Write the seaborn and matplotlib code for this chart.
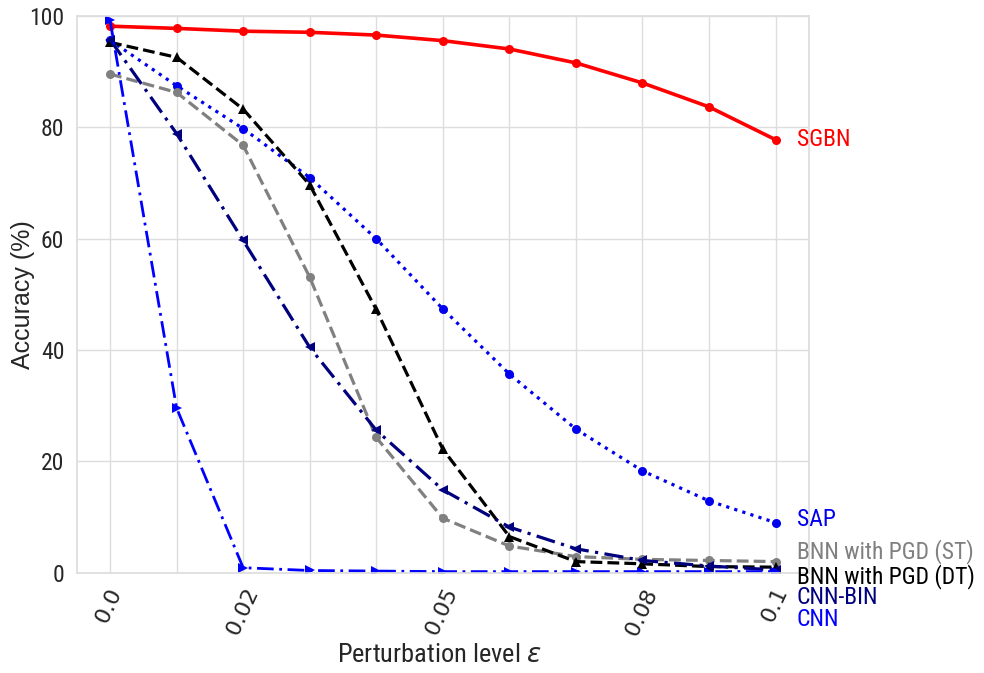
import matplotlib
matplotlib.use("Agg")
import matplotlib.pyplot as plt
from matplotlib import font_manager
import pandas as pd
import seaborn as sns

# Perturbation levels (index positions) and their tick labels
eps_index = list(range(11))
tick_labels = ["0.0", "", "0.02", "", "", "0.05", "", "", "0.08", "", "0.1"]

# Accuracy (%) per model
sgbn = [98.2, 97.8, 97.3, 97.1, 96.6, 95.6, 94.1, 91.6, 88.0, 83.7, 77.8]
sap = [95.7, 87.5, 79.8, 71.0, 60.0, 47.4, 35.7, 25.8, 18.3, 12.9, 9.0]
bnn_st = [89.6, 86.3, 76.8, 53.1, 24.3, 9.8, 4.8, 2.9, 2.4, 2.2, 2.0]
bnn_dt = [95.3, 92.6, 83.3, 69.7, 47.3, 22.2, 6.5, 2.0, 1.6, 1.1, 1.0]
cnn_bin = [95.8, 78.9, 59.7, 40.5, 25.6, 14.9, 8.2, 4.3, 2.2, 1.2, 0.5]
cnn = [99.3, 29.6, 0.9, 0.4, 0.3, 0.2, 0.2, 0.2, 0.2, 0.2, 0.2]

series_names = ["SGBN", "SAP", "BNN with PGD (ST)", "BNN with PGD (DT)", "CNN-BIN", "CNN"]
series_values = [sgbn, sap, bnn_st, bnn_dt, cnn_bin, cnn]
colors = ["#ff0000", "#0000ee", "#808080", "#000000", "#00007f", "#0000ff"]
markers = ["o", "o", "o", "^", "<", ">"]
linestyles = ["-", ":", "--", "--", (0, (6, 2, 1, 2)), (0, (6, 2, 1, 2))]
linewidths = [2.6, 2.3, 2.3, 2.3, 2.3, 2.0]
label_y = [77.8, 9.5, 3.8, -0.7, -4.5, -8.4]

sns.set_theme(style="whitegrid")

# pick a condensed sans face for the axis and series text
available = {f.name for f in font_manager.fontManager.ttflist}
narrow = "Liberation Sans"
for cand in ["Liberation Sans Narrow", "Arimo Narrow", "Roboto Condensed",
             "Archivo Narrow", "Open Sans Condensed", "PT Sans Narrow"]:
    if cand in available:
        narrow = cand
        break
plt.rcParams["font.family"] = [narrow, "DejaVu Sans"]
plt.rcParams["mathtext.fontset"] = "dejavusans"

fig, ax = plt.subplots(figsize=(9.84, 6.73), dpi=100)
fig.subplots_adjust(left=0.078, right=0.822, top=0.976, bottom=0.149)

for name, vals, c, m, ls, lw in zip(series_names, series_values, colors, markers, linestyles, linewidths):
    df = pd.DataFrame({"eps": eps_index, "acc": vals})
    sns.lineplot(data=df, x="eps", y="acc", ax=ax, color=c, marker=m,
                 markersize=6.5, markeredgewidth=0, linestyle=ls, linewidth=lw,
                 legend=False)

for name, ly, c in zip(series_names, label_y, colors):
    ax.text(10.32, ly, name, color=c, fontsize=17, ha="left", va="center",
            clip_on=False)

ax.set_xlim(-0.5, 10.5)
ax.set_ylim(0, 100)
ax.set_xticks(eps_index)
ax.set_xticklabels([f"${t}$" if t else "" for t in tick_labels],
                   rotation=65, ha="center", va="top", fontsize=16)
ax.set_yticks([0, 20, 40, 60, 80, 100])
ax.tick_params(axis="y", labelsize=17, pad=3)
ax.tick_params(axis="x", pad=4)
ax.set_xlabel("Perturbation level $\\varepsilon$", fontsize=19)
ax.xaxis.set_label_coords(0.495, -0.148)
ax.xaxis.label.set_va("center")
ax.set_ylabel("Accuracy (%)", fontsize=18, family=["Liberation Sans", "DejaVu Sans"])
ax.yaxis.set_label_coords(-0.074, 0.5)
ax.yaxis.label.set_va("center")
ax.grid(color="#dddddd", linewidth=1)
for s in ax.spines.values():
    s.set_color("#dddddd")

fig.savefig("out.png", dpi=100)
